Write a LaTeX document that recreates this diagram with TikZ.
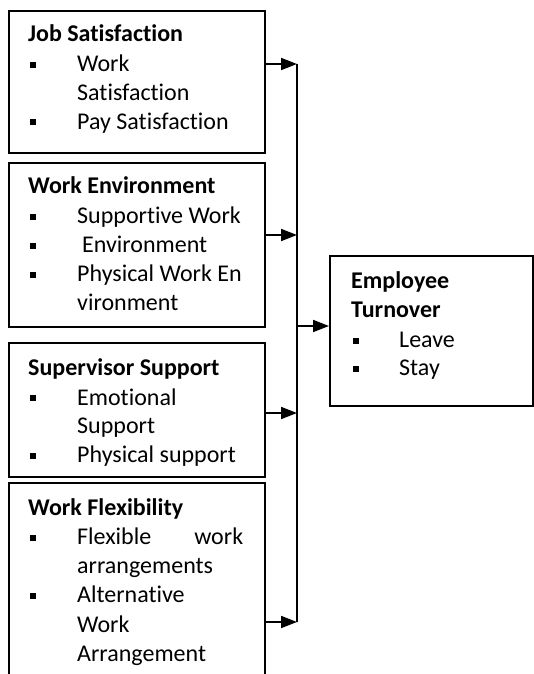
\documentclass[tikz,border=0pt]{standalone}
\usepackage{fontspec}
\setmainfont{Carlito}[Ligatures=NoCommon]
\usetikzlibrary{arrows.meta}
\begin{document}
\begin{tikzpicture}[x=1pt,y=-1pt,
  frame/.style={draw,line width=2.2pt,inner sep=0,anchor=north west},
  hd/.style={anchor=base west,inner sep=0,font=\fontsize{24}{29}\selectfont\bfseries},
  item/.style={anchor=base west,inner sep=0,font=\fontsize{24}{29}\selectfont},
  dot/.style={fill=black,draw=none,inner sep=0,minimum size=6pt,anchor=center},
  feed/.style={line width=1.8pt,-{Triangle[length=16pt,width=12pt]}},
  bus/.style={line width=1.2pt}]
\useasboundingbox (0,0) rectangle (533,674);

% factor boxes
\node[frame,minimum width=256pt,minimum height=142pt] (js) at (8,10) {};
\node[frame,minimum width=256pt,minimum height=164pt] (we) at (8,162) {};
\node[frame,minimum width=256pt,minimum height=134pt] (ss) at (8,342) {};
\node[frame,minimum width=256pt,minimum height=240pt] (wf) at (8,482) {};
% outcome box
\node[frame,minimum width=203pt,minimum height=150pt] (et) at (329,255) {};

% Job Satisfaction
\node[hd] (js-h) at (28,42) {Job Satisfaction};
\node[dot] (js-d1) at (33,65.5) {};
\node[item] (js-t1) at (77,72) {Work};
\node[item] (js-t2) at (77,101) {Satisfaction};
\node[dot] (js-d2) at (33,122.5) {};
\node[item] (js-t3) at (77,129) {Pay Satisfaction};

% Work Environment
\node[hd] (we-h) at (28,193) {Work Environment};
\node[dot] (we-d1) at (33,216.5) {};
\node[item] (we-t1) at (77,223) {Supportive Work};
\node[dot] (we-d2) at (33,245.5) {};
\node[item] (we-t2) at (82,252) {Environment};
\node[dot] (we-d3) at (33,274.5) {};
\node[item] (we-t3) at (77,281) {Physical Work En};
\node[item] (we-t4) at (77,310) {vironment};

% Supervisor Support
\node[hd] (ss-h) at (28,375) {Supervisor Support};
\node[dot] (ss-d1) at (33,398) {};
\node[item] (ss-t1) at (77,405) {Emotional};
\node[item] (ss-t2) at (77,433) {Support};
\node[dot] (ss-d2) at (33,455.5) {};
\node[item] (ss-t3) at (77,462) {Physical support};

% Work Flexibility
\node[hd] (wf-h) at (28,515) {Work Flexibility};
\node[dot] (wf-d1) at (33,537.5) {};
\node[item] (wf-t1) at (77,544) {\makebox[166pt][s]{Flexible work}};
\node[item] (wf-t2) at (77,573) {arrangements};
\node[dot] (wf-d2) at (33,595.5) {};
\node[item] (wf-t3) at (77,602) {Alternative};
\node[item] (wf-t4) at (77,632) {Work};
\node[item] (wf-t5) at (77,661) {Arrangement};

% Employee Turnover
\node[hd] (et-h1) at (351,288) {Employee};
\node[hd] (et-h2) at (351,317) {Turnover};
\node[dot] (et-d1) at (356,340.5) {};
\node[item] (et-t1) at (399,347) {Leave};
\node[dot] (et-d2) at (356,368.5) {};
\node[item] (et-t2) at (399,375) {Stay};

% collecting line
\coordinate (b1) at (297,64);
\coordinate (b2) at (297,235);
\coordinate (bm) at (297,326);
\coordinate (b3) at (297,413);
\coordinate (b4) at (297,622);
\draw[bus] (b1) -- (b4);

\draw[feed] (js.east |- b1) -- (b1);
\draw[feed] (we.east |- b2) -- (b2);
\draw[feed] (ss.east |- b3) -- (b3);
\draw[feed] (wf.east |- b4) -- (b4);
\draw[feed] (bm) -- (et.west |- bm);
\end{tikzpicture}
\end{document}
